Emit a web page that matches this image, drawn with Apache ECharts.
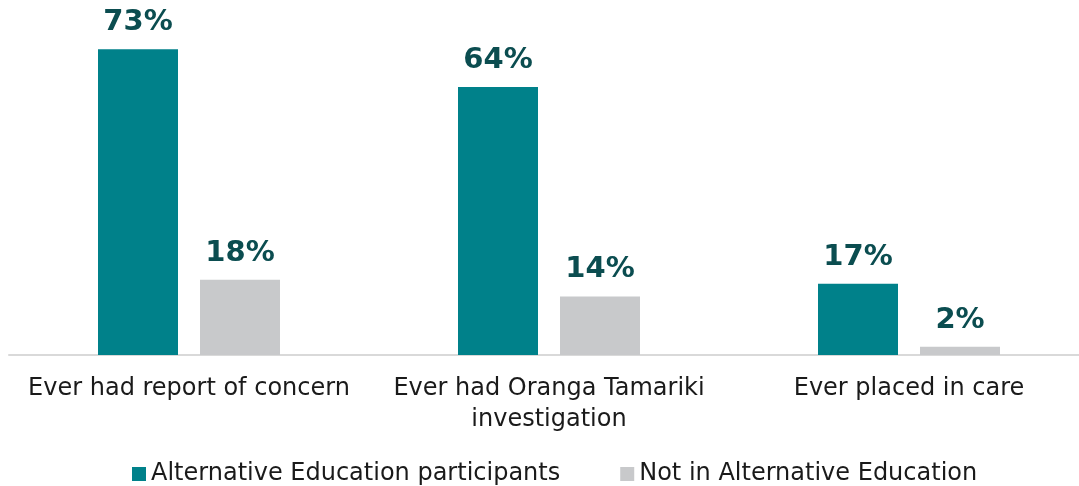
<!DOCTYPE html>
<html>
<head>
<meta charset="utf-8">
<script src="https://cdn.jsdelivr.net/npm/echarts@6/dist/echarts.min.js"></script>
<style>
  html, body { margin: 0; padding: 0; background: #fff; }
  #chart { width: 1079px; height: 486px; }
</style>
</head>
<body>
<div id="chart"></div>
<script>
// Outcome categories and the share of each group that experienced them (%)
const categories = [
  'Ever had report of concern',
  'Ever had Oranga Tamariki\ninvestigation',
  'Ever placed in care'
];
const seriesNames = ['Alternative Education participants', 'Not in Alternative Education'];
const altEducation = [73, 64, 17];
const notAltEducation = [18, 14, 2];

const FONT = 'Verdana, "DejaVu Sans", sans-serif';
const labelStyle = {
  show: true,
  position: 'top',
  distance: 12,
  formatter: '{c}%',
  fontFamily: FONT,
  fontWeight: 'bold',
  fontSize: 29,
  color: '#0B4D50'
};

const chart = echarts.init(document.getElementById('chart'), null, { renderer: 'canvas' });
chart.setOption({
  animation: false,
  textStyle: { fontFamily: FONT },
  // The plot area runs a little past the right edge so each category band is 360px wide
  grid: { left: 9, width: 1080, top: 20, bottom: 131, containLabel: false, outerBoundsMode: 'none' },
  legend: {
    top: 457,
    left: 127,
    itemWidth: 14,
    itemHeight: 14,
    itemGap: 60,
    icon: 'rect',
    textStyle: { fontFamily: FONT, fontSize: 24, color: '#1a1a1a' },
    data: seriesNames
  },
  xAxis: {
    type: 'category',
    data: categories,
    axisLine: { show: true, lineStyle: { color: '#D9D9D9', width: 2 } },
    axisTick: { show: false },
    axisLabel: {
      fontFamily: FONT,
      fontSize: 24,
      color: '#1a1a1a',
      margin: 18,
      lineHeight: 31,
      interval: 0
    }
  },
  yAxis: {
    type: 'value',
    min: 0,
    max: 80,
    show: false,
    splitLine: { show: false }
  },
  series: [
    {
      name: seriesNames[0],
      type: 'bar',
      data: altEducation,
      barWidth: 80,
      barGap: '27.5%',
      itemStyle: { color: '#00818A' },
      label: labelStyle
    },
    {
      name: seriesNames[1],
      type: 'bar',
      data: notAltEducation,
      barWidth: 80,
      itemStyle: { color: '#C8C9CB' },
      label: labelStyle
    }
  ]
});
</script>
</body>
</html>
